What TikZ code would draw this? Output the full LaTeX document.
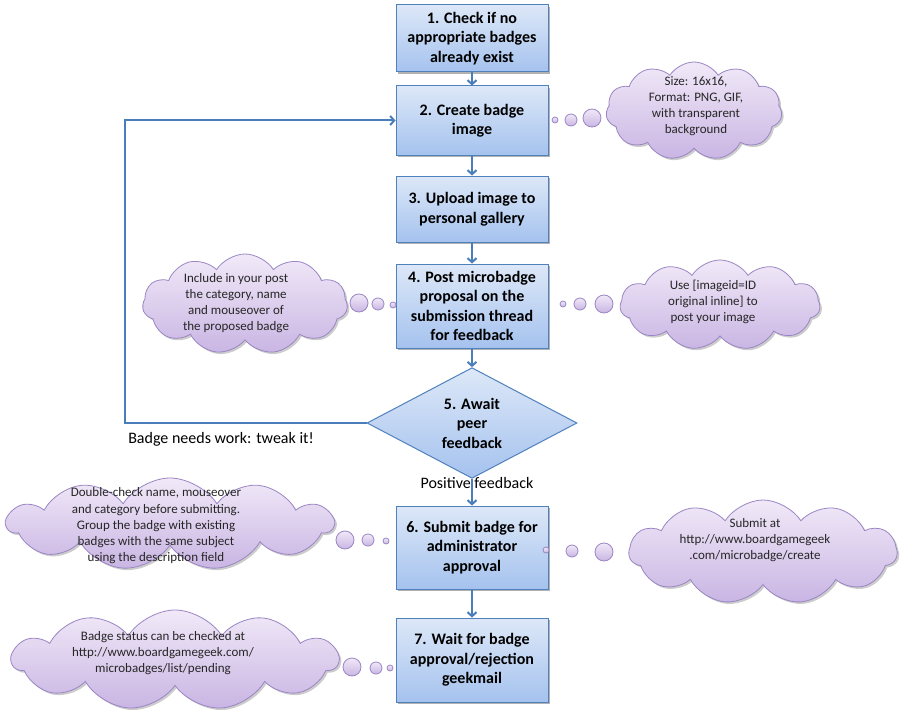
\documentclass[tikz,border=0pt]{standalone}
\usepackage{fontspec}
\setmainfont{Carlito}
\usetikzlibrary{shapes.geometric,shapes.symbols,shadows,arrows.meta}
\definecolor{boxtop}{HTML}{DDE8F8}
\definecolor{boxbot}{HTML}{A5C2EE}
\definecolor{boxline}{HTML}{4F81BD}
\definecolor{arrowc}{HTML}{4A7EBB}
\definecolor{cloudtop}{HTML}{F1E9F8}
\definecolor{cloudbot}{HTML}{C9B5E3}
\definecolor{cloudline}{HTML}{9A86C4}
\begin{document}
\begin{tikzpicture}[x=1pt,y=-1pt,
  stepbox/.style={draw=boxline, line width=1pt, top color=boxtop, bottom color=boxbot,
    minimum width=152pt, minimum height=#1, inner sep=0pt, align=center,
    font=\fontsize{16}{19.5}\selectfont\bfseries,
    drop shadow={shadow xshift=2pt, shadow yshift=-2pt, opacity=0.3, fill=black}},
  decision/.style={diamond, draw=boxline, line width=1pt, top color=boxtop, bottom color=boxbot,
    minimum width=210pt, minimum height=90pt, inner sep=0pt, align=center,
    font=\fontsize{16}{19.5}\selectfont\bfseries},
  flow/.style={draw=arrowc, line width=2pt, -{Straight Barb[length=4pt,width=9pt]}},
  thought/.style={cloud, cloud puffs=11, cloud puff arc=115, cloud ignores aspect,
    draw=cloudline, line width=0.8pt, top color=cloudtop, bottom color=cloudbot,
    inner sep=0pt, drop shadow={shadow xshift=2pt, shadow yshift=-2pt, opacity=0.2, fill=black}},
  bubble/.style={circle, draw=cloudline, line width=0.8pt, top color=cloudtop, bottom color=cloudbot,
    inner sep=0pt, minimum size=#1},
  cloudtext/.style={align=center, font=\fontsize{13}{16.2}\selectfont, text=black!85},
  lbl/.style={font=\fontsize{16}{18}\selectfont}
]
\useasboundingbox[fill=white] (0,0) rectangle (906,717);

% steps
\node[stepbox=67pt] (s1) at (472,38.5) {1. Check if no\\appropriate badges\\already exist};
\node[stepbox=69pt] (s2) at (472,120.5) {2. Create badge\\image};
\node[stepbox=66pt] (s3) at (472,209) {3. Upload image to\\personal gallery};
\node[stepbox=84pt] (s4) at (472,306) {4. Post microbadge\\proposal on the\\submission thread\\for feedback};
\node[decision] (s5) at (472,423) {5. Await\\peer\\feedback};
\node[stepbox=83pt] (s6) at (472,547.5) {6. Submit badge for\\administrator\\approval};
\node[stepbox=84pt] (s7) at (472,660) {7. Wait for badge\\approval/rejection\\geekmail};

% connectors
\draw[flow] (s1) -- (s2);
\draw[flow] (s2) -- (s3);
\draw[flow] (s3) -- (s4);
\draw[flow] (s4) -- (s5);
\draw[flow] (s5) -- (s6);
\draw[flow] (s6) -- (s7);
\coordinate (lb) at (125,423);
\coordinate (lt) at (125,120.5);
\draw[flow] (s5.west) -- (lb) -- (lt) -- (s2.west);

\node[lbl] (l1) at (221,439) {Badge needs work: tweak it!};
\node[lbl] (l2) at (477,483) {Positive feedback};

% cloud 1
\node[thought, minimum width=176pt, minimum height=98pt] (c1) at (694,111) {};
\node[cloudtext] (t1) at (696,106) {Size: 16x16,\\Format: PNG, GIF,\\with transparent\\background};
\node[bubble=6pt] (b1a) at (555,120) {};
\node[bubble=12pt] (b1b) at (571,120) {};
\node[bubble=18pt] (b1c) at (592,118) {};

% cloud 2
\node[thought, minimum width=205pt, minimum height=100pt] (c2) at (245,304) {};
\node[cloudtext] (t2) at (236,303) {Include in your post\\the category, name\\and mouseover of\\the proposed badge};
\node[bubble=18pt] (b2c) at (359,303) {};
\node[bubble=12pt] (b2b) at (378,304) {};
\node[bubble=6pt] (b2a) at (393,305) {};

% cloud 3
\node[thought, minimum width=200pt, minimum height=90pt] (c3) at (720,305) {};
\node[cloudtext] (t3) at (713,302) {Use [imageid=ID\\original inline] to\\post your image};
\node[bubble=6pt] (b3a) at (563,304) {};
\node[bubble=12pt] (b3b) at (580,304) {};
\node[bubble=18pt] (b3c) at (604,304) {};

% cloud 4
\node[thought, minimum width=326pt, minimum height=92pt] (c4) at (170,524) {};
\node[cloudtext] (t4) at (156,526) {Double-check name, mouseover\\and category before submitting.\\Group the badge with existing\\badges with the same subject\\using the description field};
\node[bubble=18pt] (b4c) at (345,540) {};
\node[bubble=12pt] (b4b) at (368,540) {};
\node[bubble=6pt] (b4a) at (386,541) {};

% cloud 5
\node[thought, minimum width=268pt, minimum height=104pt] (c5) at (763,552) {};
\node[cloudtext] (t5) at (755,540) {Submit at\\http://www.boardgamegeek\\.com/microbadge/create};
\node[bubble=6pt] (b5a) at (546,550) {};
\node[bubble=12pt] (b5b) at (572,551) {};
\node[bubble=18pt] (b5c) at (604,552) {};

% cloud 6
\node[thought, minimum width=326pt, minimum height=100pt] (c6) at (175,660) {};
\node[cloudtext] (t6) at (163,653) {Badge status can be checked at\\http://www.boardgamegeek.com/\\microbadges/list/pending};
\node[bubble=18pt] (b6c) at (352,667) {};
\node[bubble=12pt] (b6b) at (376,668) {};
\node[bubble=6pt] (b6a) at (390,668) {};
\end{tikzpicture}
\end{document}
